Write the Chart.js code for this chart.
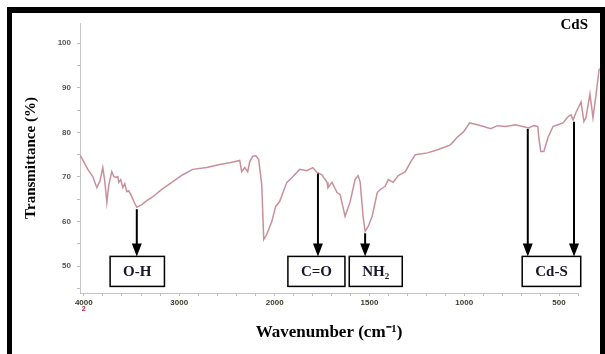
<!DOCTYPE html>
<html>
<head>
<meta charset="utf-8">
<script src="https://cdn.jsdelivr.net/npm/chart.js@4.4.0/dist/chart.umd.min.js"></script>
<style>
  body { margin: 0; background: #fff; }
  #wrap { position: relative; width: 605px; height: 354px; overflow: hidden; }
  #frame { position: absolute; left: 7px; top: 7px; width: 588px; height: 341px;
           border: 5px solid #000; border-top-width: 6px; border-bottom: 0; pointer-events: none; }
</style>
</head>
<body>
<div id="wrap"><canvas id="myChart"></canvas><div id="frame"></div></div>
<script>
// FTIR spectrum of CdS (wavenumber cm-1 -> transmittance %)
const wavenumbers = [4035, 3958, 3906, 3864, 3832, 3801, 3780, 3759, 3738, 3707, 3686, 3665, 3644, 3634, 3613,
  3592, 3571, 3550, 3529, 3497, 3476, 3445, 3393, 3340, 3288, 3183, 3079, 2963, 2859, 2712, 2576, 2471, 2367,
  2346, 2314, 2283, 2262, 2231, 2199, 2168, 2136, 2115, 2084, 2031, 1995, 1974, 1936, 1920, 1868, 1831, 1799,
  1777, 1751, 1724, 1719, 1698, 1671, 1655, 1629, 1603, 1576, 1560, 1549, 1534, 1523, 1507, 1486, 1459, 1443,
  1417, 1401, 1375, 1348, 1311, 1285, 1258, 1194, 1141, 1073, 1035, 1004, 972, 930, 898, 861, 824, 782, 729,
  692, 660, 633, 612, 607, 596, 580, 559, 532, 506, 479, 453, 437, 426, 411, 384, 369, 358, 337, 321, 305, 289, 278];
const transmittance = [74.8, 71.7, 70.1, 67.6, 69.0, 72.1, 69.0, 64.3, 68.3, 71.2, 70.1, 69.9, 70.1, 68.8, 69.4,
  67.6, 68.5, 66.7, 66.9, 65.6, 64.5, 63.2, 63.8, 64.7, 65.4, 67.2, 68.8, 70.5, 71.7, 72.1, 72.8, 73.2, 73.7,
  71.2, 72.1, 71.2, 73.4, 74.6, 74.8, 73.9, 68.3, 56.0, 57.1, 60.0, 63.4, 64.5, 68.8, 69.4, 71.7, 71.4, 72.1,
  71.0, 70.5, 68.8, 67.6, 68.8, 66.5, 66.1, 61.2, 64.3, 69.4, 70.3, 68.8, 61.2, 57.8, 58.9, 61.2, 66.5, 67.2,
  67.9, 69.4, 68.8, 70.3, 71.2, 73.2, 75.0, 75.4, 76.1, 77.2, 79.0, 80.1, 82.1, 81.7, 81.3, 80.8, 81.5, 81.3, 81.7,
  81.3, 81.0, 81.5, 81.3, 78.8, 75.7, 75.7, 78.8, 81.3, 81.7, 82.1, 83.5, 83.9, 82.8, 84.4, 86.8, 82.4, 83.3, 88.6, 83.3, 88.4, 94.0, 94.4];

const xLabels = [4000, 3000, 2000, 1500, 1000, 500];
const xMinor = [3800, 3600, 3400, 3200, 2800, 2600, 2400, 2200, 1900, 1800, 1700, 1600, 1400, 1300, 1200, 1100,
  900, 800, 700, 600, 400];
const yLabels = [50, 60, 70, 80, 90, 100];
const yMinor = [45, 55, 65, 75, 85, 95];

// band assignments: label, arrow wavenumbers and the transmittance where each arrow starts
const bands = [
  { label: 'O-H', at: 3440, arrows: [[3445, 63.0]] },
  { label: 'C=O', at: 1780, arrows: [[1772, 71.0]] },
  { label: 'NH\u2082', at: 1467, arrows: [[1523, 57.6]] },
  { label: 'Cd-S', at: 540, arrows: [[665, 81.0], [421, 82.6]] }
];

// FTIR axis: 4000-2000 takes less room than 2000-400
const BREAK = 2000, SPLIT = 0.391;
class FtirScale extends Chart.LinearScale {
  frac(v) {
    if (v >= BREAK) return (this.max - v) / (this.max - BREAK) * SPLIT;
    return SPLIT + (BREAK - v) / (BREAK - this.min) * (1 - SPLIT);
  }
  getPixelForValue(v) { return this.left + this.width * this.frac(v); }
  getValueForPixel(p) {
    const f = (p - this.left) / this.width;
    if (f <= SPLIT) return this.max - f / SPLIT * (this.max - BREAK);
    return BREAK - (f - SPLIT) / (1 - SPLIT) * (BREAK - this.min);
  }
}
FtirScale.id = 'ftir';
FtirScale.defaults = Chart.LinearScale.defaults;
Chart.register(FtirScale);

const bandPlugin = {
  id: 'bands',
  afterDatasetsDraw(chart) {
    const { ctx, scales: { x, y } } = chart;
    const boxTop = y.getPixelForValue(52.2);
    ctx.save();
    bands.forEach(b => {
      ctx.strokeStyle = '#000';
      ctx.fillStyle = '#000';
      ctx.lineWidth = 2;
      b.arrows.forEach(([w, t]) => {
        const px = x.getPixelForValue(w);
        const py = y.getPixelForValue(t) + 1;
        ctx.beginPath();
        ctx.moveTo(px, py);
        ctx.lineTo(px, boxTop - 10);
        ctx.stroke();
        ctx.beginPath();
        ctx.moveTo(px - 5, boxTop - 13);
        ctx.lineTo(px + 5, boxTop - 13);
        ctx.lineTo(px, boxTop);
        ctx.closePath();
        ctx.fill();
      });
      const cx = x.getPixelForValue(b.at);
      ctx.font = 'bold 15px "Liberation Serif"';
      const bw = Math.max(50, ctx.measureText(b.label).width + 26);
      ctx.fillStyle = '#fff';
      ctx.lineWidth = 1.5;
      ctx.fillRect(cx - bw / 2, boxTop, bw, 30);
      ctx.strokeRect(cx - bw / 2, boxTop, bw, 30);
      ctx.fillStyle = '#16162c';
      ctx.textAlign = 'center';
      ctx.textBaseline = 'middle';
      ctx.fillText(b.label, cx, boxTop + 16);
    });
    ctx.font = 'bold 15px "Liberation Serif"';
    ctx.textAlign = 'right';
    ctx.fillStyle = '#000';
    ctx.fillText('CdS', chart.width - 17, 25);
    ctx.font = 'bold 7px "Liberation Sans"';
    ctx.textAlign = 'center';
    ctx.fillStyle = '#c0203a';
    ctx.fillText('2', x.getPixelForValue(4000), 309);
    ctx.restore();
  }
};

const ctx = document.getElementById('myChart');
new Chart(ctx, {
  type: 'line',
  data: {
    datasets: [{
      data: wavenumbers.map((w, i) => ({ x: w, y: transmittance[i] })),
      borderColor: 'rgba(196,138,150,0.95)',
      borderWidth: 1.5,
      pointRadius: 0,
      tension: 0,
      clip: false
    }]
  },
  options: {
    responsive: true,
    maintainAspectRatio: false,
    animation: false,
    layout: { padding: { left: 20, top: 23, right: 27, bottom: 0 } },
    plugins: { legend: { display: false }, tooltip: { enabled: false } },
    scales: {
      x: {
        type: 'ftir',
        min: 400,
        max: 4040,
        afterFit: s => { s.height = 61; },
        afterBuildTicks: s => { s.ticks = xLabels.concat(xMinor).sort((a, b) => b - a).map(v => ({ value: v })); },
        grid: { drawOnChartArea: false, tickLength: 3, color: '#bdbdbd' },
        border: { color: '#c4c4c4' },
        ticks: {
          autoSkip: false, maxRotation: 0, padding: 2,
          font: { family: 'Liberation Sans', size: 8, weight: 'bold' }, color: '#3c3c2c',
          callback: v => xLabels.includes(v) ? String(v) : ''
        },
        title: {
          display: true, text: 'Wavenumber (cm\u207B\u00B9)', color: '#000',
          font: { family: 'Liberation Serif', size: 17, weight: 'bold' },
          padding: { top: 0, bottom: 11 }
        }
      },
      y: {
        min: 44,
        max: 104.5,
        afterFit: s => { s.width = 60; },
        afterBuildTicks: s => { s.ticks = yLabels.concat(yMinor).sort((a, b) => a - b).map(v => ({ value: v })); },
        grid: { drawOnChartArea: false, tickLength: 3, color: '#bdbdbd' },
        border: { color: '#c4c4c4' },
        ticks: {
          autoSkip: false, padding: 6,
          font: { family: 'Liberation Sans', size: 8, weight: 'bold' }, color: '#555',
          callback: v => yLabels.includes(v) ? String(v) : ''
        },
        title: {
          display: true, text: 'Transmittance (%)', color: '#000',
          font: { family: 'Liberation Serif', size: 15, weight: 'bold' },
          padding: { top: 2, bottom: 0 }
        }
      }
    }
  },
  plugins: [bandPlugin]
});
</script>
</body>
</html>
